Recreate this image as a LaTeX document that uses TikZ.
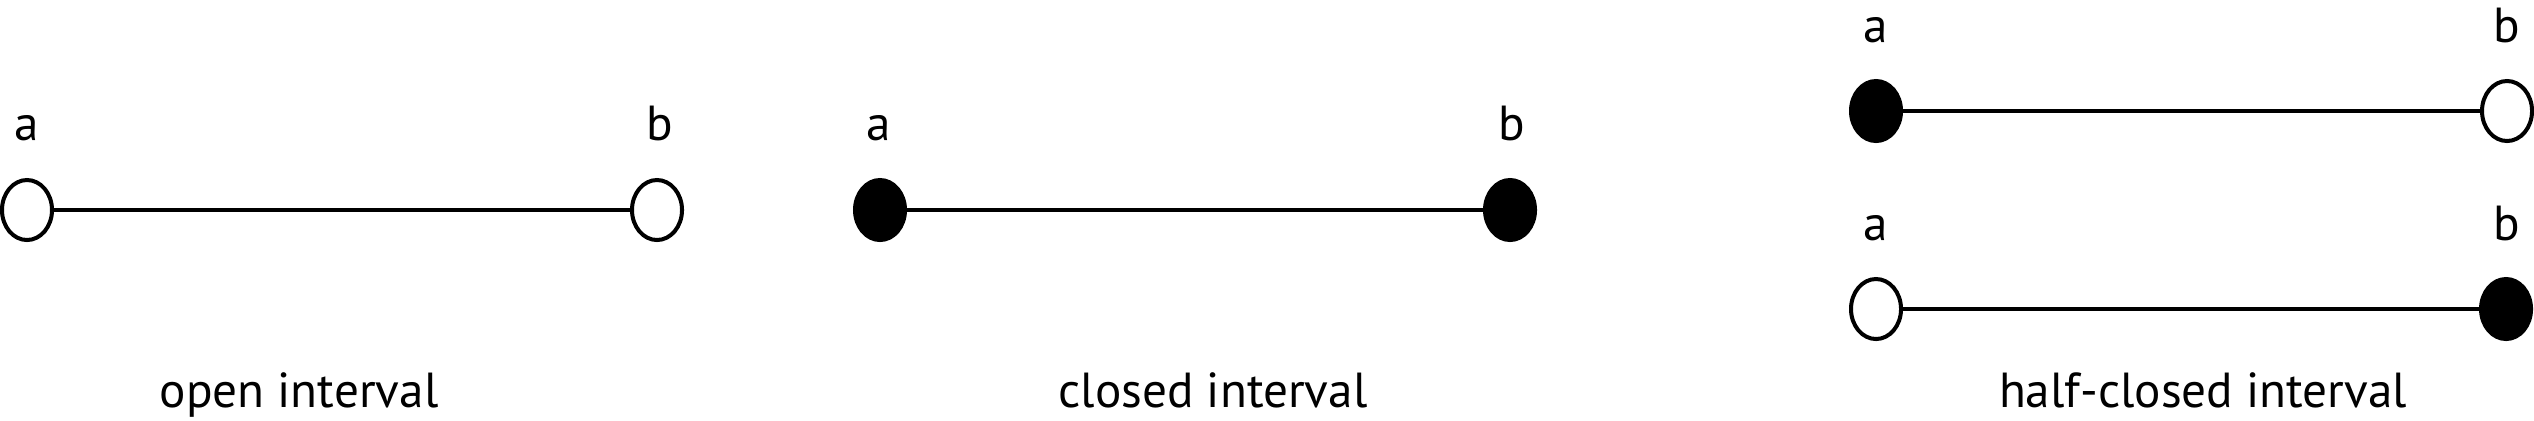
\documentclass[tikz,border=0pt]{standalone}
\usepackage{fontspec}
\setmainfont{PT Sans}
\usetikzlibrary{shapes.geometric}
\begin{document}
\begin{tikzpicture}[x=0.01cm,y=-0.01cm,
  endpt/.style={ellipse, draw=black, line width=1.14pt, minimum width=0.50cm, minimum height=0.60cm, inner sep=0pt},
  openpt/.style={endpt, fill=white},
  closedpt/.style={endpt, fill=black},
  lbl/.style={anchor=base, inner sep=0pt, font=\fontsize{14}{16}\selectfont},
  seg/.style={line width=1.14pt}]
\useasboundingbox (0,0) rectangle (2534,420);

% open interval
\node[openpt] (a1) at (27,210) {};
\node[openpt] (b1) at (657,210) {};
\draw[seg] (a1) -- (b1);
\node[lbl] (la1) at (27,140) {a};
\node[lbl] (lb1) at (660,140) {b};
\node[lbl] (cap1) at (299,407) {open interval};

% closed interval
\node[closedpt] (a2) at (880,210) {};
\node[closedpt] (b2) at (1510,210) {};
\draw[seg] (a2) -- (b2);
\node[lbl] (la2) at (879,140) {a};
\node[lbl] (lb2) at (1512,140) {b};
\node[lbl] (cap2) at (1213,407) {closed interval};

% half-closed, top
\node[closedpt] (a3) at (1876,111) {};
\node[openpt] (b3) at (2507,111) {};
\draw[seg] (a3) -- (b3);
\node[lbl] (la3) at (1876,42) {a};
\node[lbl] (lb3) at (2507,42) {b};

% half-closed, bottom
\node[openpt] (a4) at (1876,309) {};
\node[closedpt] (b4) at (2506,309) {};
\draw[seg] (a4) -- (b4);
\node[lbl] (la4) at (1876,240) {a};
\node[lbl] (lb4) at (2507,240) {b};
\node[lbl] (cap3) at (2203,407) {half-closed interval};
\end{tikzpicture}
\end{document}
